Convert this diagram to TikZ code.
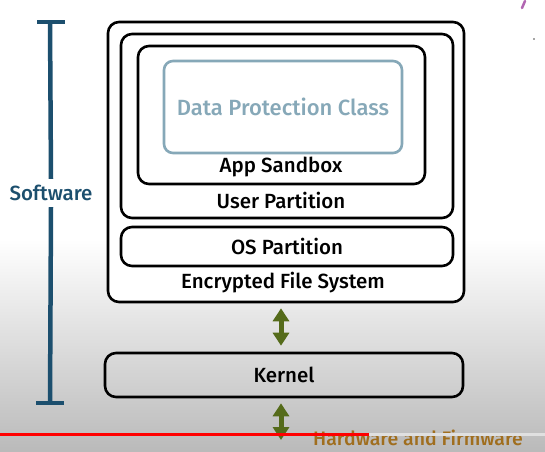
\documentclass[tikz,border=0pt]{standalone}
\usepackage{fontspec}
\setmainfont{Fira Sans}[BoldFont={Fira Sans Medium}]
\usetikzlibrary{arrows.meta}
\definecolor{swblue}{HTML}{1C4F6E}
\definecolor{dpcblue}{HTML}{86A8B8}
\definecolor{arrgreen}{HTML}{556B1A}
\definecolor{hwbrown}{HTML}{A06E1E}
\definecolor{ytred}{HTML}{FF0000}
\tikzset{
  x=1pt, y=-1pt,
  box/.style={draw=black, line width=2.6pt, rounded corners=11pt, inner sep=0pt},
  lbl/.style={font=\fontsize{20.5}{22}\selectfont\bfseries, inner sep=0pt},
  twoway/.style={draw=arrgreen, line width=5pt,
    {Triangle[width=16pt,length=13pt]}-{Triangle[width=16pt,length=13pt]}},
}
\begin{document}
\begin{tikzpicture}
\useasboundingbox (0,0) rectangle (545,451);
% background
\fill[white] (0,0) rectangle (545,240);
\shade[top color=white, bottom color=black!27] (0,239) rectangle (545,451);
% top-right purple mark
\draw[violet!60, line width=2.5pt, line cap=round] (525,1) -- (522,8);
\fill[black!70] (534,39) circle (0.9pt);

% software bar
\node[lbl, text=swblue] (sw) at (51,193) {Software};
\coordinate (swtop) at (50,22);
\coordinate (swbot) at (50,403);
\draw[swblue, line width=4.5pt] (swtop) -- ([yshift=6pt]sw.north);
\draw[swblue, line width=4.5pt] ([yshift=-6pt]sw.south) -- (swbot);
\draw[swblue, line width=4.5pt] ([xshift=-13pt]swtop) -- ([xshift=15pt]swtop);
\draw[swblue, line width=4.5pt] ([xshift=-14pt]swbot) -- ([xshift=14pt]swbot);

% boxes
\node[box, fill=white, minimum width=356pt, minimum height=280pt] (efs) at (286,162) {};
\node[box, minimum width=332pt, minimum height=184pt] (user) at (287,126) {};
\node[box, minimum width=287pt, minimum height=138pt] (app) at (281.5,115) {};
\node[box, draw=dpcblue, rounded corners=9pt, minimum width=238pt, minimum height=92pt] (dpc) at (283,107) {};
\node[box, minimum width=332pt, minimum height=39pt] (os) at (287,246.5) {};
\node[box, minimum width=358pt, minimum height=44pt] (kern) at (284,375) {};

% labels
\node[lbl, font=\fontsize{22}{24}\selectfont\bfseries, text=dpcblue] (dpct) at (dpc.center) {Data Protection Class};
\node[lbl] (appt) at (281,167) {App Sandbox};
\node[lbl] (usert) at (281,200) {User Partition};
\node[lbl] (ost) at (os.center) {OS Partition};
\node[lbl] (efst) at (283,283) {Encrypted File System};
\node[lbl] (kernt) at (kern.center) {Kernel};
\node[lbl, font=\fontsize{19.5}{21}\selectfont\bfseries, text=hwbrown, anchor=west] (hw) at (313,438) {Hardware and Firmware};

% arrows
\coordinate (hwend) at (281,440);
\draw[twoway] ([xshift=-5pt,yshift=-5pt]efs.south) -- ([xshift=-3pt,yshift=6pt]kern.north);
\draw[twoway] ([xshift=-3pt,yshift=-5pt]kern.south) -- (hwend);

% video progress bar
\coordinate (pbl) at (0,434);
\coordinate (pbm) at (369,434);
\coordinate (pbr) at (545,434);
\draw[black!12, line width=3pt] (pbm) -- (pbr);
\draw[ytred, line width=3pt] (pbl) -- (pbm);
\end{tikzpicture}
\end{document}
